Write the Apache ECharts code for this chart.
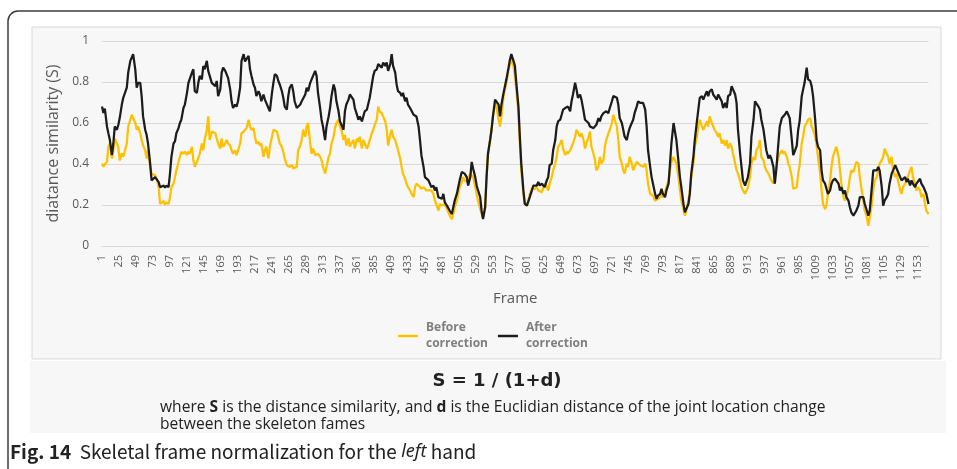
<!DOCTYPE html>
<html>
<head>
<meta charset="utf-8">
<script src="https://cdn.jsdelivr.net/npm/echarts@6/dist/echarts.min.js"></script>
<style>
  html, body { margin: 0; padding: 0; background: #ffffff; }
  #chart { width: 957px; height: 469px; }
</style>
</head>
<body>
<div id="chart"></div>
<script>
// Frame numbers along the x axis (1 … 1168); every 24th one is labelled.
const frameCount = 1168;
const frameLabels = Array.from({ length: frameCount }, (_, i) => String(i + 1));

// Frames at which the similarity was sampled.
const sampleFrames = [
  1,3,5,8,10,12,15,17,19,22, 24,26,29,31,33,36,38,41,43,45,
  48,50,52,55,57,59,62,64,66,69, 71,73,76,78,81,83,85,88,90,92,
  95,97,99,102,104,106,109,111,113,116, 118,121,123,125,128,130,132,135,137,139,
  142,144,146,149,151,153,156,158,161,163, 165,168,170,172,175,177,179,182,184,186,
  189,191,193,196,198,201,203,205,208,210, 212,215,217,219,222,224,226,229,231,233,
  236,238,241,243,245,248,250,252,255,257, 259,262,264,266,269,271,273,276,278,281,

  283,285,288,290,292,295,297,299,302,304, 306,309,311,313,316,318,321,323,325,328,
  330,332,335,337,339,342,344,346,349,351, 353,356,358,361,363,365,368,370,372,375,
  377,379,382,384,386,389,391,393,396,398, 401,403,405,408,410,412,415,417,419,422,
  424,426,429,431,433,436,438,441,443,445, 448,450,452,455,457,459,462,464,466,469,
  471,473,476,478,481,483,485,488,490,492, 495,497,499,502,504,506,509,511,513,516,
  518,521,523,525,528,530,532,535,537,539, 542,544,546,549,551,553,556,558,561,563,
  565,568,570,572,575,577,

  579,582,584,586,589,591,593,596,598,601, 603,605,608,610,612,615,617,619,622,624,
  626,629,631,633,636,638,641,643,645,648, 650,652,655,657,659,662,664,666,669,671,
  673,676,678,681,683,685,688,690,692,695, 697,699,702,704,706,709,711,713,716,718,
  721,723,725,728,730,732,735,737,739,742, 744,746,749,751,753,756,758,761,763,765,
  768,770,772,775,777,779,782,784,786,789, 791,793,796,798,801,803,805,808,810,812,
  815,817,819,822,824,826,829,831,833,836, 838,841,843,845,848,850,852,855,857,859,
  862,864,866,869,871,873,

  876,878,881,883,885,888,890,892,895,897, 899,902,904,906,909,911,913,916,918,921,
  923,925,928,930,932,935,937,939,942,944, 946,949,951,953,956,958,961,963,965,968,
  970,972,975,977,979,982,984,986,989,991, 993,996,998,1001,1003,1005,1008,1010,1012,1015,
  1017,1019,1022,1024,1026,1029,1031,1033,1036,1038, 1041,1043,1045,1048,1050,1052,1055,1057,1059,1062,
  1064,1066,1069,1071,1073,1076,1078,1081,1083,1085, 1088,1090,1092,1095,1097,1099,1102,1104,1106,1109,
  1111,1113,1116,1118,1121,1123,1125,1128,1130,1132, 1135,1137,1139,1142,1144,1146,1149,1151,1153,1156,
  1158,1161,1163,1165,1168
];

// Distance similarity S before skeleton frame normalization.
const beforeCorrection = [
  .402,.386,.400,.410,.484,.500,.427,.467,.525,.500, .484,.418,.452,.435,.460,.500,.583,.616,.640,.632,
  .600,.567,.583,.550,.517,.490,.467,.427,.467,.386, .353,.345,.345,.328,.287,.205,.205,.220,.200,.213,
  .205,.238,.287,.304,.336,.369,.410,.435,.460,.450, .460,.443,.460,.450,.484,.418,.386,.410,.402,.450,
  .500,.467,.517,.567,.632,.517,.558,.567,.550,.558, .500,.475,.525,.484,.500,.517,.500,.490,.467,.450,
  .467,.443,.450,.500,.550,.558,.567,.575,.616,.583, .567,.575,.533,.500,.508,.490,.500,.435,.467,.484,
  .427,.484,.533,.567,.575,.558,.550,.500,.484,.460, .427,.394,.402,.386,.394,.378,.369,.386,.467,.490,

  .517,.567,.533,.583,.600,.500,.450,.475,.443,.435, .450,.435,.419,.386,.353,.386,.435,.450,.500,.533,
  .575,.600,.616,.583,.567,.517,.542,.490,.525,.484, .500,.517,.475,.525,.508,.533,.475,.517,.500,.475,
  .490,.517,.550,.567,.591,.616,.680,.657,.648,.632, .608,.567,.490,.542,.567,.533,.517,.508,.467,.427,
  .386,.353,.328,.304,.287,.271,.254,.238,.287,.304, .295,.287,.279,.287,.279,.271,.271,.262,.271,.254,
  .221,.205,.172,.205,.197,.189,.205,.180,.164,.148, .131,.156,.189,.221,.254,.287,.312,.336,.320,.312,
  .304,.353,.361,.336,.287,.254,.221,.180,.156,.139, .189,.336,.450,.517,.567,.632,.698,.680,.616,.583,
  .632,.731,.764,.796,.860,.885,

  .910,.879,.830,.764,.648,.500,.369,.254,.205,.205, .221,.254,.279,.287,.279,.287,.271,.279,.262,.271,
  .304,.287,.271,.304,.336,.369,.402,.435,.484,.500, .517,.475,.443,.460,.450,.467,.460,.500,.533,.567,
  .558,.533,.550,.517,.475,.500,.533,.558,.484,.450, .419,.369,.386,.435,.402,.419,.484,.517,.550,.567,
  .600,.640,.616,.583,.517,.435,.402,.369,.353,.402, .386,.435,.402,.369,.386,.410,.402,.394,.402,.386,
  .402,.369,.304,.254,.246,.246,.221,.213,.230,.238, .254,.238,.262,.287,.320,.369,.410,.435,.435,.402,
  .336,.271,.221,.180,.148,.172,.221,.271,.336,.402, .484,.533,.583,.616,.583,.567,.583,.608,.583,.632,
  .600,.583,.567,.550,.533,.550,

  .500,.517,.490,.517,.475,.500,.484,.450,.402,.369, .353,.320,.287,.271,.254,.271,.287,.336,.402,.435,
  .419,.467,.484,.517,.435,.419,.386,.369,.353,.336, .320,.304,.336,.386,.435,.450,.467,.450,.460,.435,
  .402,.386,.336,.279,.271,.287,.353,.394,.500,.533, .583,.600,.616,.624,.583,.567,.533,.490,.435,.353,
  .271,.205,.180,.205,.254,.320,.386,.435,.467,.484, .435,.369,.304,.238,.221,.238,.287,.336,.369,.361,
  .386,.410,.402,.336,.287,.221,.172,.139,.098,.139, .205,.271,.320,.336,.369,.402,.419,.435,.475,.450,
  .435,.402,.435,.369,.336,.353,.320,.271,.254,.287, .304,.320,.328,.369,.386,.336,.304,.271,.287,.271,
  .238,.254,.205,.172,.156
];

// Distance similarity S after skeleton frame normalization.
const afterCorrection = [
  .681,.649,.670,.583,.550,.520,.443,.500,.583,.567, .590,.624,.690,.723,.730,.772,.846,.903,.910,.936,
  .860,.772,.796,.796,.731,.632,.567,.542,.500,.402, .320,.312,.336,.328,.312,.287,.291,.295,.285,.295,
  .287,.353,.435,.500,.510,.550,.575,.600,.616,.673, .690,.747,.796,.805,.846,.862,.755,.747,.796,.830,
  .813,.878,.862,.903,.854,.846,.796,.805,.780,.805, .731,.764,.846,.870,.854,.862,.820,.764,.706,.673,
  .690,.680,.706,.772,.903,.936,.900,.903,.928,.862, .830,.788,.772,.731,.755,.739,.706,.739,.714,.706,
  .673,.657,.747,.796,.838,.830,.805,.788,.755,.723, .680,.665,.731,.772,.788,.755,.706,.673,.665,.690,

  .706,.698,.739,.772,.755,.796,.813,.830,.854,.830, .747,.673,.616,.583,.517,.583,.632,.673,.731,.788,
  .764,.706,.657,.608,.600,.567,.657,.690,.714,.739, .731,.714,.673,.640,.616,.632,.608,.616,.657,.665,
  .673,.723,.788,.830,.854,.862,.887,.895,.870,.895, .879,.895,.854,.887,.936,.879,.846,.788,.755,.747,
  .731,.747,.706,.723,.690,.673,.665,.640,.632,.632, .583,.517,.443,.386,.336,.328,.320,.304,.287,.295,
  .271,.287,.238,.246,.230,.254,.213,.197,.189,.172, .156,.189,.221,.254,.287,.320,.361,.369,.353,.336,
  .295,.336,.410,.378,.336,.295,.271,.238,.172,.131, .189,.336,.450,.517,.567,.632,.714,.723,.690,.632,
  .690,.747,.780,.813,.870,.910,

  .936,.903,.879,.796,.680,.533,.402,.271,.205,.197, .205,.238,.271,.295,.304,.295,.312,.295,.304,.295,
  .287,.320,.336,.394,.402,.467,.517,.583,.608,.616, .640,.665,.673,.665,.680,.657,.706,.739,.796,.764,
  .723,.739,.714,.657,.616,.608,.600,.583,.591,.575, .567,.591,.624,.608,.632,.648,.640,.657,.648,.673,
  .706,.731,.739,.723,.690,.624,.600,.567,.533,.517, .550,.575,.600,.616,.648,.680,.706,.698,.690,.698,
  .665,.583,.467,.386,.336,.304,.254,.230,.246,.254, .279,.254,.238,.271,.304,.402,.500,.600,.608,.517,
  .410,.336,.287,.205,.164,.172,.205,.254,.353,.435, .517,.608,.665,.723,.731,.714,.731,.755,.731,.755,
  .764,.739,.731,.714,.739,.747,

  .706,.673,.698,.673,.731,.739,.780,.772,.739,.698, .567,.450,.386,.320,.295,.304,.336,.402,.533,.616,
  .706,.714,.680,.665,.616,.567,.517,.467,.427,.443, .427,.386,.304,.369,.500,.583,.624,.632,.640,.657,
  .640,.624,.517,.443,.460,.490,.567,.608,.731,.764, .796,.870,.813,.805,.780,.731,.616,.517,.484,.467,
  .369,.320,.304,.304,.254,.271,.304,.320,.328,.320, .304,.271,.287,.254,.271,.238,.221,.189,.164,.148,
  .156,.172,.197,.238,.246,.238,.205,.172,.148,.172, .287,.369,.378,.369,.386,.369,.287,.197,.221,.238,
  .254,.304,.353,.369,.394,.378,.361,.336,.320,.312, .336,.312,.328,.295,.320,.304,.287,.304,.295,.328,
  .304,.287,.271,.254,.205
];

const seriesNames = ['Before\ncorrection', 'After\ncorrection'];
const seriesColors = ['#FFC000', '#1c1c1c'];

const toPoints = values => sampleFrames.map((f, i) => [String(f), values[i]]);

const chart = echarts.init(document.getElementById('chart'));

chart.setOption({
  animation: false,
  backgroundColor: '#ffffff',
  textStyle: { fontFamily: 'Open Sans' },
  grid: { left: 102, right: 28.5, top: 41, bottom: 223, containLabel: false },
  legend: {
    left: 398,
    top: 320,
    padding: 0,
    icon: 'rect',
    itemWidth: 20,
    itemHeight: 2.5,
    itemGap: 10,
    data: seriesNames,
    textStyle: {
      fontFamily: 'Open Sans',
      fontSize: 12,
      fontWeight: 'bold',
      color: '#7f7f7f',
      lineHeight: 16,
      padding: [0, 0, 0, 3]
    }
  },
  xAxis: {
    type: 'category',
    data: frameLabels,
    boundaryGap: false,
    name: 'Frame',
    nameLocation: 'middle',
    nameGap: 45,
    nameTextStyle: { fontSize: 15, color: '#595959', fontFamily: 'Open Sans' },
    axisLine: { lineStyle: { color: '#d9d9d9' } },
    axisTick: { show: false },
    splitLine: { show: false },
    axisLabel: {
      interval: 23,
      rotate: 90,
      margin: 9,
      fontSize: 11,
      color: '#595959',
      fontFamily: 'Open Sans'
    }
  },
  yAxis: {
    type: 'value',
    min: 0,
    max: 1,
    interval: 0.2,
    name: 'diatance similarity (S)',
    nameLocation: 'middle',
    nameGap: 34,
    nameTextStyle: { fontSize: 16, color: '#595959', fontFamily: 'Open Sans' },
    axisLine: { show: false },
    axisTick: { show: false },
    splitLine: { lineStyle: { color: '#d9d9d9', width: 1 } },
    axisLabel: { margin: 13, fontSize: 12, color: '#595959', fontFamily: 'Open Sans' }
  },
  series: [
    {
      name: seriesNames[0],
      type: 'line',
      data: toPoints(beforeCorrection),
      symbol: 'none',
      showSymbol: false,
      color: seriesColors[0],
      lineStyle: { width: 2.25, color: seriesColors[0] },
      z: 3
    },
    {
      name: seriesNames[1],
      type: 'line',
      data: toPoints(afterCorrection),
      symbol: 'none',
      showSymbol: false,
      color: seriesColors[1],
      lineStyle: { width: 2.25, color: seriesColors[1] },
      z: 4
    }
  ],
  graphic: {
    elements: [
      {
        // outer figure frame with rounded top-left corner
        type: 'rect',
        z: -20,
        shape: { x: 8, y: 11, width: 1000, height: 500, r: [10, 0, 0, 0] },
        style: { fill: '#ffffff', stroke: '#3c3c3c', lineWidth: 1.5 }
      },
      {
        // chart panel
        type: 'rect',
        z: -10,
        shape: { x: 32, y: 27, width: 909, height: 332 },
        style: { fill: '#f7f7f7', stroke: '#d9d9d9', lineWidth: 1 }
      },
      {
        // formula band
        type: 'rect',
        z: -10,
        shape: { x: 30, y: 361, width: 916, height: 72 },
        style: { fill: '#f7f7f7' }
      },
      {
        type: 'text',
        x: 497,
        y: 381,
        z: 5,
        style: {
          text: 'S = 1 / (1+d)',
          fontFamily: 'DejaVu Sans',
          fontWeight: 'bold',
          fontSize: 18,
          fill: '#222222',
          textAlign: 'center',
          textVerticalAlign: 'middle'
        }
      },
      {
        type: 'text',
        x: 160,
        y: 408,
        z: 5,
        style: {
          text: 'where {b|S} is the distance similarity, and {b|d} is the Euclidian distance of the joint location change',
          fontFamily: 'Open Sans',
          fontSize: 15.6,
          fill: '#222222',
          textVerticalAlign: 'middle',
          rich: { b: { fontFamily: 'Open Sans', fontSize: 15.6, fontWeight: 'bold', fill: '#222222' } }
        }
      },
      {
        type: 'text',
        x: 160,
        y: 425,
        z: 5,
        style: {
          text: 'between the skeleton fames',
          fontFamily: 'Open Sans',
          fontSize: 15.6,
          fill: '#222222',
          textVerticalAlign: 'middle'
        }
      },
      {
        type: 'text',
        x: 10,
        y: 452,
        z: 5,
        style: {
          text: '{b|Fig. 14}  Skeletal frame normalization for the {i|left} hand',
          fontFamily: 'Noto Sans CJK SC',
          fontSize: 19,
          fill: '#222222',
          textVerticalAlign: 'middle',
          rich: {
            b: { fontFamily: 'Noto Sans CJK SC', fontSize: 19, fontWeight: 'bold', fill: '#222222' },
            i: { fontFamily: 'Noto Sans', fontSize: 18, fontStyle: 'italic', fill: '#222222' }
          }
        }
      }
    ]
  }
});
</script>
</body>
</html>
